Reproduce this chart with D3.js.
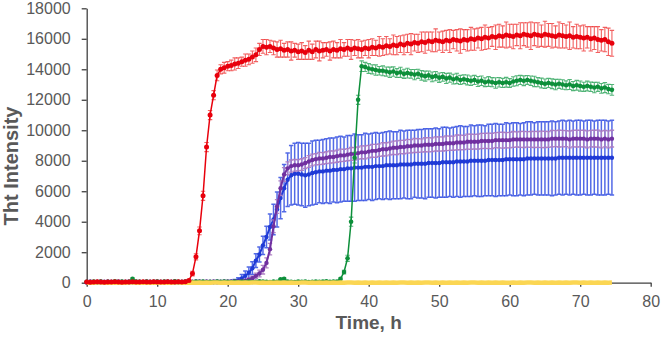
<!DOCTYPE html>
<html><head><meta charset="utf-8">
<script src="https://cdn.jsdelivr.net/npm/d3@7"></script>
<style>body{margin:0;background:#fff}svg{display:block}text{font-family:"Liberation Sans",Arial,sans-serif}</style>
</head><body><svg id="c" width="661" height="340"></svg>
<script>
// time grid, hours (every 0.5 h from 0 to 74.5)
const hours = d3.range(0, 75, 0.5);
const xTicks = [0,10,20,30,40,50,60,70,80];
const yTicks = [0,2000,4000,6000,8000,10000,12000,14000,16000,18000];

const red = [
40,30,50,60,40,30,50,40,60,50,
30,40,50,60,40,50,70,50,40,60,
50,40,50,60,50,40,60,50,70,150,
600,1700,3400,5700,8900,11000,12300,13600,14000,14100,
14200,14250,14350,14400,14500,14600,14650,14800,14950,15300,
15500,15450,15500,15400,15300,15350,15250,15300,15200,15250,
15150,15200,15100,15250,15150,15300,15200,15250,15300,15200,
15300,15250,15350,15300,15400,15300,15400,15350,15300,15400,
15350,15450,15400,15500,15450,15550,15500,15600,15550,15650,
15600,15700,15650,15750,15700,15800,15750,15850,15800,15900,
15850,15800,15900,15850,15950,15900,15850,15950,15900,16000,
15950,16050,16000,16100,16050,16150,16100,16200,16150,16250,
16200,16150,16250,16200,16300,16250,16200,16300,16250,16200,
16300,16250,16200,16150,16250,16200,16150,16200,16100,16150,
16100,16050,16100,16000,16050,15950,15900,15950,15800,15700];
const redErr = [
30,20,40,30,20,30,40,30,20,30,
30,20,30,40,30,20,30,40,30,20,
30,40,20,30,40,30,20,30,40,80,
150,200,250,300,300,300,300,350,300,350,
300,350,400,350,300,400,350,400,450,400,
450,500,400,450,500,550,450,500,600,450,
500,550,450,600,500,550,650,500,450,600,
550,500,600,450,550,650,500,600,550,500,
600,550,500,650,550,600,500,650,600,550,
650,600,700,550,600,650,700,600,650,750,
600,700,650,750,600,700,800,650,700,750,
700,650,750,800,700,650,800,750,700,850,
750,800,700,850,750,800,900,750,800,700,
850,750,800,700,850,800,750,900,700,800,
750,850,700,800,750,850,700,800,900,850];

const green = [
60,40,80,50,70,30,60,50,90,40,
70,50,60,250,80,60,40,70,50,60,
80,50,70,60,40,90,60,50,70,60,
50,80,60,70,40,60,50,80,60,70,
60,50,70,40,80,60,70,50,60,90,
70,60,50,80,60,220,260,70,60,50,
80,60,70,50,60,80,60,70,90,60,
70,80,250,700,1600,4000,8200,12000,14200,14150,
14050,14000,13950,13900,13900,13850,13800,13850,13750,13800,
13700,13750,13700,13650,13700,13600,13550,13600,13500,13550,
13450,13500,13400,13450,13350,13400,13300,13350,13300,13250,
13300,13200,13250,13150,13200,13150,13100,13150,13100,13150,
13100,13200,13250,13300,13250,13300,13250,13200,13150,13100,
13050,13100,13050,13000,13050,13000,12950,13000,12900,12950,
12900,12850,12900,12850,12800,12850,12750,12800,12700,12650];
const greenErr = [
30,20,40,30,20,30,40,20,30,40,
20,30,40,60,30,20,40,30,20,30,
40,30,20,30,40,30,20,40,30,20,
30,40,30,20,30,40,30,20,40,30,
20,30,40,30,20,30,40,30,20,30,
40,30,20,30,40,60,60,30,20,40,
30,20,40,30,20,30,40,30,20,30,
40,30,60,120,200,300,350,300,350,300,
320,300,340,280,320,300,340,310,290,330,
300,320,290,340,300,310,330,290,320,300,
310,290,330,300,320,340,300,290,320,310,
300,330,310,290,320,300,340,310,300,320,
290,310,330,300,320,290,310,340,300,320,
310,300,320,340,300,310,290,330,300,320,
330,300,320,310,340,300,320,330,310,350];

const blue = [
10,20,10,0,20,10,20,10,0,10,
20,10,10,20,0,10,20,10,20,10,
10,20,10,10,20,10,0,20,10,20,
10,20,30,10,20,20,30,20,30,30,
40,60,90,150,280,450,650,950,1450,1850,
2450,3000,3650,4150,4800,5550,6200,6750,7050,7150,
7150,7100,7050,7100,7200,7250,7300,7300,7350,7350,
7400,7400,7450,7450,7500,7500,7550,7550,7550,7600,
7600,7600,7650,7650,7650,7700,7700,7700,7700,7750,
7750,7750,7750,7800,7800,7800,7800,7850,7850,7850,
7850,7900,7900,7900,7900,7950,7950,7950,7950,8000,
8000,8000,8000,8000,8050,8050,8050,8050,8050,8100,
8100,8100,8100,8100,8100,8150,8150,8150,8150,8150,
8150,8150,8150,8150,8200,8200,8200,8200,8200,8200,
8200,8200,8200,8200,8200,8200,8200,8200,8200,8200];
const blueErr = [
10,20,10,10,20,10,20,10,10,20,
10,20,10,20,10,20,10,20,10,20,
20,10,20,10,20,10,20,10,20,10,
20,30,30,20,30,30,40,30,40,50,
60,80,120,180,250,320,380,420,450,500,
600,700,850,1000,1150,1350,1550,1750,1950,2000,
2050,2050,2100,2050,2100,2100,2050,2100,2100,2150,
2100,2150,2150,2100,2150,2150,2200,2150,2150,2200,
2150,2200,2200,2150,2200,2200,2250,2200,2200,2250,
2200,2250,2250,2200,2250,2250,2300,2250,2250,2300,
2250,2300,2300,2250,2300,2300,2350,2300,2300,2350,
2300,2350,2350,2300,2350,2350,2400,2350,2350,2400,
2350,2400,2400,2350,2400,2400,2400,2350,2400,2400,
2400,2400,2450,2400,2400,2450,2400,2450,2400,2450,
2450,2400,2450,2450,2400,2450,2450,2450,2400,2450];

const purple = [
60,80,50,70,90,60,80,70,50,90,
70,60,80,90,60,70,50,80,60,70,
80,70,60,90,70,80,60,70,90,80,
70,90,80,60,80,70,90,80,70,90,
80,90,100,90,110,130,200,300,450,600,
850,1300,2200,3700,5000,6200,7100,7500,7650,7700,
7700,7750,7850,7950,8050,8100,8150,8150,8200,8250,
8250,8300,8350,8350,8400,8450,8450,8500,8550,8550,
8600,8650,8650,8700,8750,8750,8800,8850,8850,8900,
8900,8950,8950,9000,9000,9000,9050,9050,9050,9100,
9100,9100,9150,9150,9150,9200,9200,9200,9250,9250,
9250,9250,9300,9300,9300,9300,9350,9350,9350,9350,
9350,9400,9400,9400,9400,9400,9400,9400,9400,9400,
9400,9400,9450,9450,9450,9450,9450,9400,9450,9450,
9450,9450,9400,9450,9450,9450,9400,9450,9400,9450];
const purpleErr = [
30,20,30,40,20,30,20,30,40,20,
30,40,20,30,20,30,40,20,30,20,
20,30,40,30,20,30,40,20,30,30,
40,20,30,30,40,20,30,40,30,20,
30,40,40,50,60,80,100,130,180,220,
280,330,380,420,450,480,450,420,400,380,
370,380,360,390,380,370,400,380,390,400,
390,400,410,390,400,420,410,400,420,430,
410,420,430,410,440,430,420,440,450,430,
440,450,430,460,450,440,460,470,450,460,
470,460,480,470,460,490,480,470,490,500,
480,490,500,490,510,500,490,510,520,500,
510,520,500,520,530,510,520,530,520,540,
530,520,540,530,550,540,530,550,540,550,
540,550,560,540,550,560,550,540,560,550];

const yellow = [
0,10,0,10,20,0,10,0,10,0,
10,0,10,20,0,10,0,10,0,10,
0,10,0,10,0,20,10,0,10,0,
10,0,10,0,10,0,20,10,0,10,
0,10,0,10,0,10,0,10,20,0,
10,0,10,0,10,0,10,0,10,0,
0,10,20,0,10,0,10,0,10,0,
10,0,10,0,10,20,0,10,0,10,
0,10,0,10,0,10,0,10,0,20,
10,0,10,0,10,0,10,20,0,10,
0,10,0,10,0,10,0,10,0,10,
10,0,20,0,10,0,10,0,10,0,
0,10,0,10,0,20,10,0,10,0,
10,0,10,0,10,0,10,0,20,10,
0,10,0,10,0,10,0,10,0,10];

const svg = d3.select('#c');
const x = d3.scaleLinear().domain([0, 80]).range([86.7, 650.7]);
const y = d3.scaleLinear().domain([0, 18000]).range([282.7, 8.3]);
const axisColor = '#404040', labelColor = '#595959';

// axes
const gx = svg.append('g').attr('transform', `translate(0,${y(0)})`)
  .call(d3.axisBottom(x).tickValues(xTicks).tickFormat(d3.format('d'))
    .tickSize(4).tickSizeOuter(0).tickPadding(9));
const gy = svg.append('g').attr('transform', `translate(${x(0)},0)`)
  .call(d3.axisLeft(y).tickValues(yTicks).tickFormat(d3.format('d'))
    .tickSize(5).tickSizeOuter(0).tickPadding(11));
[gx, gy].forEach(g => {
  g.select('.domain').attr('stroke', axisColor).attr('stroke-width', 1.3);
  g.selectAll('.tick line').attr('stroke', axisColor).attr('stroke-width', 1.3);
  g.selectAll('.tick text').attr('fill', labelColor).style('font-size', '16px')
   .style('font-family', '"Liberation Sans", Arial, sans-serif');
});

svg.append('text').attr('x', (x(0) + x(80)) / 2).attr('y', 329)
  .attr('text-anchor', 'middle').attr('fill', labelColor)
  .style('font-size', '19px').style('font-weight', 'bold').text('Time, h');
svg.append('text').attr('transform', `translate(18,${166}) rotate(-90)`)
  .attr('text-anchor', 'middle').attr('fill', labelColor)
  .style('font-size', '20px').style('font-weight', 'bold').text('Tht Intensity');

function drawSeries(vals, errs, color, errColor, errOpacity, errWidth, r, lw) {
  const data = hours.map((t, i) => ({ t, v: vals[i], e: errs ? errs[i] : 0 }));
  const g = svg.append('g');
  if (errs) {
    g.append('g').attr('stroke', errColor).attr('stroke-opacity', errOpacity)
      .attr('stroke-width', errWidth).attr('fill', 'none')
      .selectAll('path').data(data).join('path')
      .attr('d', d => {
        const cx = x(d.t), y1 = y(d.v + d.e), y2 = y(Math.max(0, d.v - d.e));
        return `M${cx},${y1}V${y2}M${cx - 2.2},${y1}H${cx + 2.2}M${cx - 2.2},${y2}H${cx + 2.2}`;
      });
  }
  g.append('path').datum(data).attr('fill', 'none').attr('stroke', color)
    .attr('stroke-width', lw)
    .attr('d', d3.line().x(d => x(d.t)).y(d => y(d.v)));
  if (r > 0) {
    g.append('g').attr('fill', color).selectAll('circle').data(data).join('circle')
      .attr('cx', d => x(d.t)).attr('cy', d => y(d.v)).attr('r', r);
  }
}

drawSeries(blue, blueErr, '#1f3ad6', '#3550e2', 0.85, 1.5, 2.2, 2);
drawSeries(purple, purpleErr, '#7030a0', '#ad7cc2', 0.95, 1.3, 2.2, 2);
drawSeries(green, greenErr, '#0d8f3a', '#36a862', 0.85, 1.1, 2.3, 1.5);
drawSeries(yellow, null, '#fbd653', null, 0, 0, 0, 4.5);
drawSeries(red, redErr, '#e8000c', '#ef3838', 0.8, 1.1, 2.5, 1.5);
</script></body></html>
